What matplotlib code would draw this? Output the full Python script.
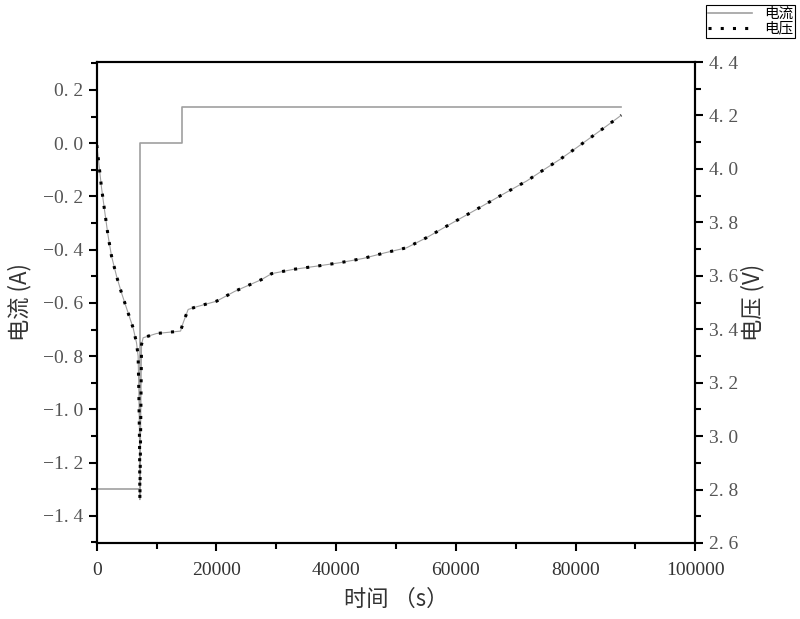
import numpy as np
import matplotlib
matplotlib.use('Agg')
import matplotlib.pyplot as plt
from matplotlib.ticker import MultipleLocator, FuncFormatter

plt.rcParams['font.family'] = ['Liberation Serif', 'Noto Sans CJK SC', 'DejaVu Sans']

# current (A) vs time (s), step profile
cur_t = [0, 7200, 7200, 14300, 14300, 87600]
cur_i = [-1.3, -1.3, 0.0, 0.0, 0.135, 0.135]

# voltage (V) vs time (s)
volt_t = [0, 786, 1338, 1890, 2458, 3294, 4130, 5234, 6070, 6639, 6906, 7023, 7150, 7200,
          7475, 7742, 9983, 12207, 13997,
          14431, 15267, 16672, 20016, 23076, 27541, 29213, 32825, 36738, 40634, 44531,
          48160, 51788, 55133, 59029, 63494, 67390, 71855, 74631, 77423, 80216, 84112,
          87172, 87625]
volt_v = [4.089, 3.930, 3.838, 3.749, 3.674, 3.599, 3.536, 3.461, 3.405, 3.349, 3.299, 3.174, 2.961, 2.762,
          3.343, 3.368, 3.384, 3.389, 3.393,
          3.424, 3.474, 3.484, 3.505, 3.542, 3.586, 3.608, 3.624, 3.636, 3.649, 3.665,
          3.686, 3.705, 3.743, 3.793, 3.849, 3.899, 3.955, 3.996, 4.036, 4.080, 4.143,
          4.193, 4.201]

cjk = ['Noto Sans CJK SC', 'DejaVu Sans']
tick_col = '#555555'

def fmt(v, pos):
    s = '%.1f' % v
    if s == '-0.0':
        s = '0.0'
    return s.replace('-', '\u2212').replace('.', '. ')

fig = plt.figure(figsize=(8, 6.19), dpi=100)
ax = fig.add_axes([0.121, 0.1228, 0.748, 0.777])
ax2 = ax.twinx()

l1, = ax.plot(cur_t, cur_i, color='#a0a0a0', lw=1.2, label='电流')
ax2.plot(volt_t, volt_v, color='#a0a0a0', lw=0.8)
l2, = ax2.plot(volt_t, volt_v, color='black', lw=2.2, ls=(0, (1, 3)), label='电压')

ax.set_xlim(0, 100000)
ax.set_ylim(-1.502, 0.305)
ax2.set_ylim(2.6, 4.4)

ax.xaxis.set_major_locator(MultipleLocator(20000))
ax.xaxis.set_minor_locator(MultipleLocator(10000))
ax.yaxis.set_major_locator(MultipleLocator(0.2))
ax.yaxis.set_minor_locator(MultipleLocator(0.1))
ax.yaxis.set_major_formatter(FuncFormatter(fmt))
ax2.yaxis.set_major_locator(MultipleLocator(0.2))
ax2.yaxis.set_minor_locator(MultipleLocator(0.1))
ax2.yaxis.set_major_formatter(FuncFormatter(fmt))

for a in (ax, ax2):
    for s in a.spines.values():
        s.set_linewidth(1.5)
    a.tick_params(which='major', direction='out', length=6, width=1.5,
                  labelsize=14, labelcolor=tick_col, pad=4)
    a.tick_params(which='minor', direction='out', length=4, width=1.5)
ax.tick_params(axis='x', labelcolor='#333333', pad=8)

ax.set_xlabel('时间 （s）', fontsize=16, family=cjk, color='#333333', labelpad=6)
ax.set_ylabel('电流 (A)', fontsize=16, family=cjk, color='#333333', labelpad=8)
ax2.set_ylabel('电压 (V)', fontsize=16, family=cjk, color='#333333', labelpad=2)

leg = fig.legend(handles=[l1, l2], loc='upper right', bbox_to_anchor=(0.994, 0.992),
                 prop={'family': cjk, 'size': 10.5}, frameon=True, fancybox=False,
                 edgecolor='black', framealpha=1, borderpad=0.15, labelspacing=0.05,
                 handlelength=3.0, handletextpad=0.8, borderaxespad=0)
leg.get_frame().set_linewidth(0.8)

plt.savefig('out.png', dpi=100)
